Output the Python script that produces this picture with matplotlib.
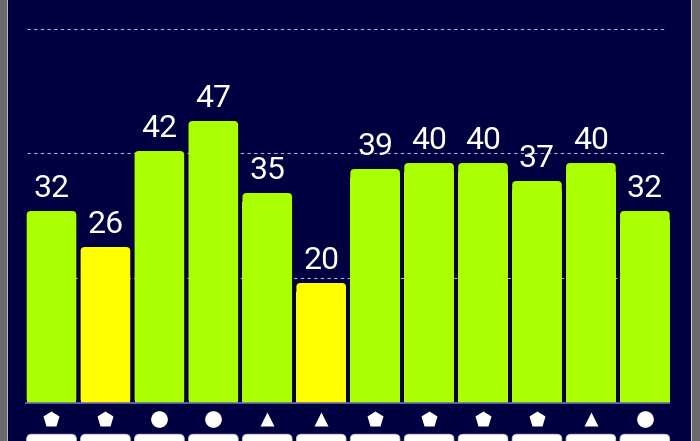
import matplotlib
matplotlib.use('Agg')
import matplotlib.pyplot as plt
from matplotlib.patches import FancyBboxPatch, Rectangle

plt.rcParams['font.family'] = ['Roboto', 'DejaVu Sans']

values = [32, 26, 42, 47, 35, 20, 39, 40, 40, 37, 40, 32]
colors = ['#aaff00', '#ffff00', '#aaff00', '#aaff00', '#aaff00', '#ffff00',
          '#aaff00', '#aaff00', '#aaff00', '#aaff00', '#aaff00', '#aaff00']
shapes = ['p', 'p', 'o', 'o', '^', '^', 'p', 'p', 'p', 'p', '^', 'o']
grid_vals = [62.5 / 3, 2 * 62.5 / 3, 62.3]

bg = '#010040'
fig = plt.figure(figsize=(7, 4.41), dpi=100, facecolor=bg)
ax = fig.add_axes([0, 0, 1, 1])
ax.set_facecolor(bg)

# pixel layout -> data coords
pitch = 53.94
x0 = 51.5
ax.set_xlim(-x0 / pitch, (700 - x0) / pitch)
ax.set_ylim(-38 / 6, 403 / 6)
ax.axis('off')

xs = list(range(len(values)))
w = 0.92

for g in grid_vals:
    ax.plot([-0.45, 11.4], [g, g], ls=(0, (3, 3)), color='#b0b0d0', lw=0.8, zorder=1)

# bars with rounded tops
bars = ax.bar(xs, values, width=w, color=colors, zorder=2)
for b, c in zip(bars, colors):
    b.set_visible(False)
    x, y, bw, bh = b.get_x(), b.get_y(), b.get_width(), b.get_height()
    r = 0.08
    ax.add_patch(FancyBboxPatch((x + r, y + r * 8), bw - 2 * r, bh - r * 8 - r * 8,
                                boxstyle='round,pad=%f' % r, mutation_aspect=8,
                                fc=c, ec='none', zorder=2))
    ax.add_patch(Rectangle((x, y), bw, bh - 1.5, fc=c, ec='none', zorder=2))
    ax.text(x + bw / 2, bh + 1.4, str(int(bh)), ha='center', va='bottom',
            color='white', fontsize=23, zorder=3)

ax.plot([-0.48, 11.45], [0, 0], color='#7070a8', lw=1.2, zorder=3)

for x, s in zip(xs, shapes):
    ms = 12 if s != '^' else 10.5
    ax.plot(x, -2.7, marker=s, color='white', ms=ms, mec='none', zorder=3)
    ax.add_patch(FancyBboxPatch((x - w / 2 + 0.1, -9.5), w - 0.2, 3.5,
                                boxstyle='round,pad=0.1', mutation_aspect=8,
                                fc='white', ec='#ccccdd', lw=0.6, zorder=3))

# side borders
fig.patches.append(Rectangle((0, 0), 7 / 700, 1, transform=fig.transFigure,
                             fc='#6b6b6b', ec='none'))
fig.patches.append(Rectangle((7 / 700, 0), 1.2 / 700, 1, transform=fig.transFigure,
                             fc='#b8b8b8', ec='none'))
fig.patches.append(Rectangle((691 / 700, 0), 9 / 700, 1, transform=fig.transFigure,
                             fc='#6b6b6b', ec='none'))
fig.patches.append(Rectangle((691 / 700, 0), 1.2 / 700, 1, transform=fig.transFigure,
                             fc='#d0d0d0', ec='none'))

fig.savefig('out.png', dpi=100, facecolor=bg)
